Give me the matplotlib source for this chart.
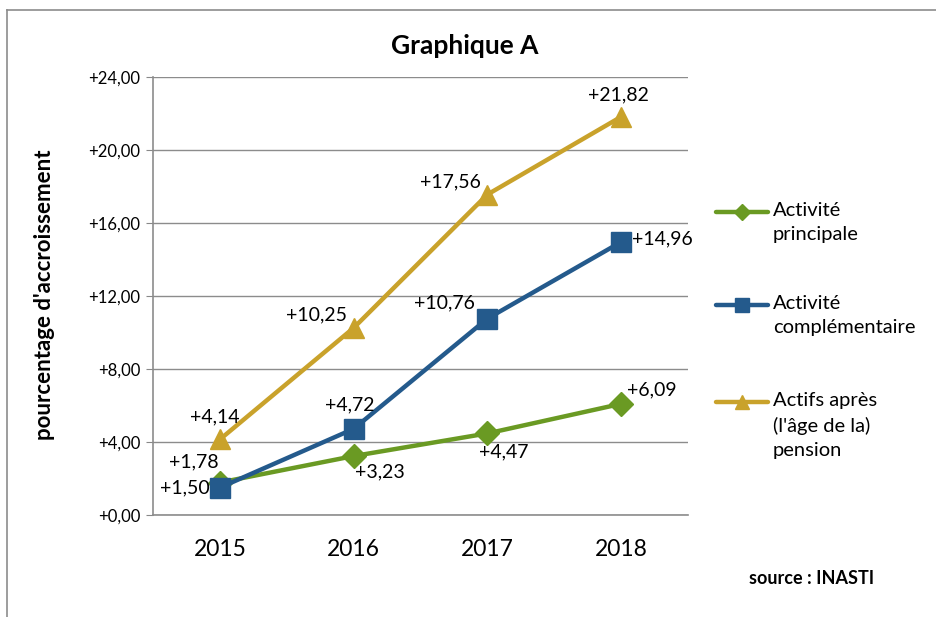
import matplotlib
matplotlib.use("Agg")
import matplotlib.pyplot as plt
from matplotlib.lines import Line2D

plt.rcParams['font.family'] = ['Lato', 'DejaVu Sans']

years = ["2015", "2016", "2017", "2018"]
principale = [1.78, 3.23, 4.47, 6.09]
complementaire = [1.50, 4.72, 10.76, 14.96]
apres_pension = [4.14, 10.25, 17.56, 21.82]
labels = ["Activité\nprincipale", "Activité\ncomplémentaire", "Actifs après\n(l'âge de la)\npension"]
y_ticks = [0, 4, 8, 12, 16, 20, 24]

green = "#6A9A23"
blue = "#245A8C"
gold = "#C9A22B"

W, H = 936, 617
fig = plt.figure(figsize=(W / 100, H / 100), dpi=100)
ax = fig.add_axes([153 / W, 1 - 515 / H, (688 - 153) / W, (515 - 77) / H])

x = list(range(len(years)))
ax.plot(x, principale, color=green, lw=3.2, marker='D', ms=12, zorder=3)
ax.plot(x, complementaire, color=blue, lw=3.2, marker='s', ms=15, zorder=4)
ax.plot(x, apres_pension, color=gold, lw=3.2, marker='^', ms=15, zorder=2)

ax.set_xlim(-0.5, 3.5)
ax.set_ylim(0, 24)
ax.set_yticks(y_ticks)
ax.set_yticklabels(["+%d,00" % v for v in y_ticks], fontsize=12)
ax.set_xticks(x)
ax.set_xticklabels(years, fontsize=16.5)
ax.tick_params(axis='x', length=0, pad=17)
ax.tick_params(axis='y', length=5, color="#888888", pad=4)
ax.grid(axis='y', color="#8c8c8c", lw=1)
ax.set_axisbelow(True)
for s in ['top', 'right']:
    ax.spines[s].set_visible(False)
ax.spines['left'].set_color("#8c8c8c")
ax.spines['bottom'].set_color("#8c8c8c")
ax.spines['left'].set_linewidth(1.2)
ax.spines['bottom'].set_linewidth(1.2)

def fmt(v):
    return ("+%.2f" % v).replace(".", ",")

fs = 14
# offsets in points (dx, dy, ha, va)
off_g = [(-1, 9, 'right', 'bottom'), (1, -5, 'left', 'top'), (-6, -7, 'left', 'top'), (4, 4, 'left', 'bottom')]
off_b = [(-7, 0, 'right', 'center'), (-3, 11, 'center', 'bottom'), (-9, 5, 'right', 'bottom'), (8, 2, 'left', 'center')]
off_a = [(-4, 10, 'center', 'bottom'), (-5, 3, 'right', 'bottom'), (-5, 3, 'right', 'bottom'), (-2, 10, 'center', 'bottom')]
for series, offs in ((principale, off_g), (complementaire, off_b), (apres_pension, off_a)):
    for i, v in enumerate(series):
        dx, dy, ha, va = offs[i]
        ax.annotate(fmt(v), (i, v), xytext=(dx, dy), textcoords='offset points',
                    ha=ha, va=va, fontsize=fs, color="black", zorder=6)

fig.text(465 / W, 1 - 46 / H, "Graphique A", ha='center', va='center', fontsize=19, fontweight='bold')
fig.text(45 / W, 1 - 295 / H, "pourcentage d'accroissement", rotation=90, ha='center', va='center',
         fontsize=16, fontweight='bold')
fig.text(812 / W, 1 - 578 / H, "source : INASTI", ha='center', va='center', fontsize=13, fontweight='bold')

# legend
leg = [(green, 'D', 8, 212), (blue, 's', 10, 305), (gold, '^', 10, 402)]
for (c, m, ms, yy), lab in zip(leg, labels):
    yf = 1 - yy / H
    fig.add_artist(Line2D([716 / W, 768 / W], [yf, yf], color=c, lw=3.2, solid_capstyle='round',
                          transform=fig.transFigure))
    fig.add_artist(Line2D([742 / W], [yf], color=c, marker=m, ms=ms, transform=fig.transFigure))
    fig.text(773 / W, 1 - (yy - 10) / H, lab, ha='left', va='top', fontsize=14.5, linespacing=1.5)

# outer frame
fig.add_artist(Line2D([7 / W, 7 / W], [0, 1 - 10 / H], color="#8c8c8c", lw=1.2, transform=fig.transFigure))
fig.add_artist(Line2D([7 / W, 1], [1 - 10 / H, 1 - 10 / H], color="#8c8c8c", lw=1.2, transform=fig.transFigure))

fig.savefig("out.png", dpi=100, facecolor="white")
